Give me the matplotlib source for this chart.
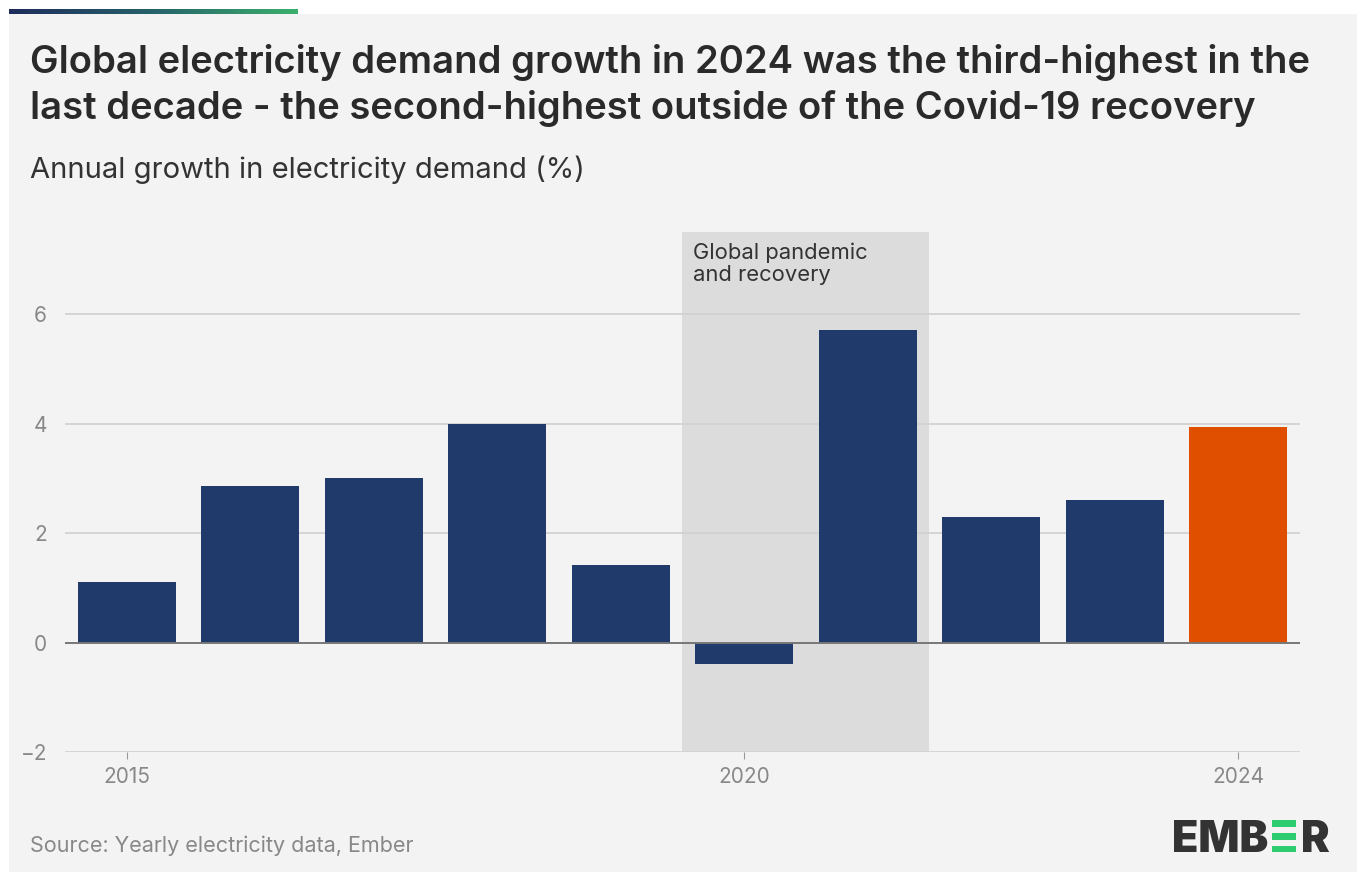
import matplotlib
matplotlib.use("Agg")
import matplotlib.pyplot as plt
import numpy as np
from matplotlib.patches import Rectangle
from matplotlib.colors import LinearSegmentedColormap

years = [2015, 2016, 2017, 2018, 2019, 2020, 2021, 2022, 2023, 2024]
growth = [1.11, 2.86, 3.01, 4.0, 1.42, -0.40, 5.71, 2.30, 2.61, 3.94]
highlight_year = 2024
yticks = [-2, 0, 2, 4, 6]
xtick_years = [2015, 2020, 2024]
shade_span = (2019.5, 2021.5)
shade_label = "Global pandemic\nand recovery"

title_lines = ["Global electricity demand growth in 2024 was the third-highest in the",
               "last decade - the second-highest outside of the Covid-19 recovery"]
subtitle = "Annual growth in electricity demand (%)"
source = "Source: Yearly electricity data, Ember"

BG = "#f3f3f3"
NAVY = "#1f3a6b"
ORANGE = "#e04e00"
FONT = "Inter"

W, H = 1357, 872
fig = plt.figure(figsize=(W / 100, H / 100), dpi=100)
fig.patch.set_facecolor("white")

def fx(px):
    return px / W

def fy(py):
    return 1 - py / H

# gray panel
fig.patches.append(Rectangle((fx(9), 0), 1 - fx(9), fy(14), transform=fig.transFigure,
                             facecolor=BG, edgecolor="none", zorder=-10))
# gradient top bar
grad_ax = fig.add_axes([fx(9), fy(14), fx(298) - fx(9), fy(9) - fy(14)])
grad = np.linspace(0, 1, 256).reshape(1, -1)
cmap = LinearSegmentedColormap.from_list("g", ["#1e2c5c", "#26626a", "#3bb06c"])
grad_ax.imshow(grad, aspect="auto", cmap=cmap)
grad_ax.axis("off")

ax = fig.add_axes([fx(65), fy(752), fx(1300) - fx(65), fy(232) - fy(752)])
ax.set_zorder(5)
ax.set_facecolor(BG)
ax.set_xlim(2014.5, 2024.5)
ax.set_ylim(-2, 7.5)

ax.axvspan(shade_span[0], shade_span[1], ymin=0, ymax=1, color="#dcdcdc", zorder=0, lw=0)
ax.text(shade_span[0] + 0.085, 7.31, shade_label, ha="left", va="top", fontsize=15.8,
        color="#333333", family=FONT, linespacing=1.15)

for yv in yticks:
    if yv == 0:
        continue
    ax.axhline(yv, color="#d0d0d0", lw=1.2, zorder=1)
ax.axhline(0, color="#777777", lw=1.4, zorder=3)

colors = [ORANGE if y == highlight_year else NAVY for y in years]
ax.bar(years, growth, width=0.79, color=colors, zorder=2)

for s in ax.spines.values():
    s.set_visible(False)
ax.set_yticks(yticks)
ax.set_yticklabels([str(v).replace("-", "\u2212") for v in yticks], fontsize=15,
                   color="#888888", family=FONT)
ax.tick_params(axis="y", length=0, pad=13)
ax.set_xticks(xtick_years)
ax.set_xticklabels([str(y) for y in xtick_years], fontsize=15, color="#888888", family=FONT)
ax.tick_params(axis="x", length=5, color="#999999", pad=6)

fig.text(fx(30), fy(73), title_lines[0], ha="left", va="baseline", fontsize=27.5,
         fontweight="semibold", color="#2a2a2a", family=FONT)
fig.text(fx(30), fy(119), title_lines[1], ha="left", va="baseline", fontsize=27.5,
         fontweight="semibold", color="#2a2a2a", family=FONT)
fig.text(fx(30), fy(178), subtitle, ha="left", va="baseline", fontsize=21, color="#333333", family=FONT)
fig.text(fx(30), fy(852), source, ha="left", va="baseline", fontsize=15.5, color="#888888", family=FONT)

# EMBER logo
logo_base = fy(852)
t = fig.text(fx(1172), logo_base, "EMB", ha="left", va="baseline", fontsize=31, fontweight="black",
             color="#333333", family=FONT)
fig.canvas.draw()
bb = t.get_window_extent()
x0 = bb.x1 + 4
bar_h = 6.5
for py in [820, 833, 845.5]:
    fig.patches.append(Rectangle((x0 / W, fy(py + bar_h)), 24 / W, bar_h / H,
                                 transform=fig.transFigure, facecolor="#2ecc71",
                                 edgecolor="none"))
fig.text((x0 + 29) / W, logo_base, "R", ha="left", va="baseline", fontsize=31, fontweight="black",
         color="#333333", family=FONT)

fig.savefig("out.png", dpi=100, facecolor=fig.get_facecolor())
